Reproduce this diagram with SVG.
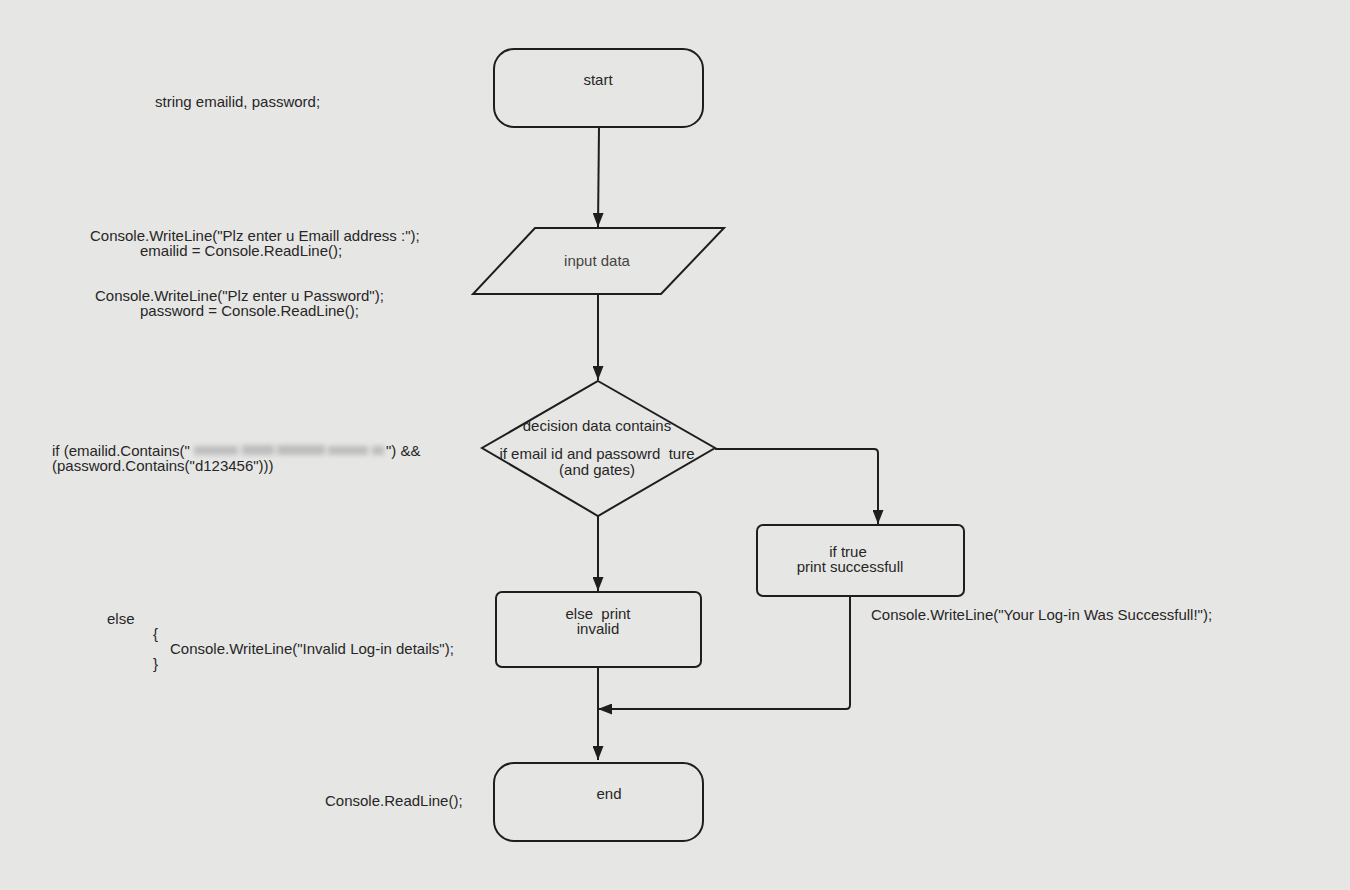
<svg xmlns="http://www.w3.org/2000/svg" width="1350" height="890" viewBox="0 0 1350 890">
<style>
text{font-family:"Liberation Sans",Arial,sans-serif;font-size:15px;fill:#262626}
.c{text-anchor:middle}
.shape{fill:none;stroke:#1e1e1e;stroke-width:2}
.edge{fill:none;stroke:#1e1e1e;stroke-width:2}
</style>
<defs>
<marker id="ah" viewBox="0 0 14 11" refX="14" refY="5.5" markerWidth="14" markerHeight="11" markerUnits="userSpaceOnUse" orient="auto">
<path d="M0,0 L14,5.5 L0,11 z" fill="#1e1e1e"/>
</marker>
<filter id="blur" x="-20%" y="-80%" width="140%" height="260%"><feGaussianBlur stdDeviation="2.5"/></filter>
</defs>
<rect width="1350" height="890" fill="#e6e6e5"/>

<g id="connectors">
<path class="edge" d="M599,127 L598,227" marker-end="url(#ah)"/>
<path class="edge" d="M598,294 L598,380" marker-end="url(#ah)"/>
<path class="edge" d="M715,449 L874,449 Q878,449 878,453 L878,524" marker-end="url(#ah)"/>
<path class="edge" d="M598,516 L598,591" marker-end="url(#ah)"/>
<path class="edge" d="M850,596 L850,705 Q850,709 846,709 L598,709" marker-end="url(#ah)"/>
<path class="edge" d="M598,667 L598,760" marker-end="url(#ah)"/>
</g>

<g id="start">
<rect class="shape" x="494" y="49" width="209" height="78" rx="20"/>
<text class="c" x="598" y="85">start</text>
</g>
<g id="input">
<path class="shape" d="M535,228 L724,228 L661,294 L473,294 z"/>
<text class="c" x="597" y="266" style="fill:#444">input data</text>
</g>
<g id="decision">
<path class="shape" d="M598,381 L715,448 L598,516 L482,448 z"/>
<text class="c" x="597" y="431">decision data contains</text>
<text class="c" x="597" y="459" xml:space="preserve">if email id and passowrd  ture</text>
<text class="c" x="597" y="475">(and gates)</text>
</g>
<g id="iftrue">
<rect class="shape" x="757" y="525" width="207" height="71" rx="6"/>
<text class="c" x="848" y="557">if true</text>
<text class="c" x="850" y="572">print successfull</text>
</g>
<g id="else">
<rect class="shape" x="496" y="592" width="205" height="75" rx="6"/>
<text class="c" x="598" y="619" xml:space="preserve">else  print</text>
<text class="c" x="598" y="634">invalid</text>
</g>
<g id="end">
<rect class="shape" x="494" y="763" width="209" height="78" rx="20"/>
<text class="c" x="609" y="799">end</text>
</g>

<g id="code">
<text x="155" y="107">string emailid, password;</text>
<text x="90" y="241">Console.WriteLine("Plz enter u Emaill address :");</text>
<text x="140" y="256">emailid = Console.ReadLine();</text>
<text x="95" y="301">Console.WriteLine("Plz enter u Password");</text>
<text x="140" y="316">password = Console.ReadLine();</text>
<text x="52" y="456">if (emailid.Contains("</text>
<g filter="url(#blur)" fill="#bdbdbd">
<rect x="194" y="446" width="44" height="9"/>
<rect x="242" y="445" width="32" height="10"/>
<rect x="277" y="445" width="48" height="10"/>
<rect x="328" y="446" width="40" height="9"/>
<rect x="372" y="446" width="12" height="9"/>
</g>
<text x="386" y="456">") &amp;&amp;</text>
<text x="52" y="471">(password.Contains("d123456")))</text>
<text x="107" y="624">else</text>
<text x="153" y="639">{</text>
<text x="170" y="654">Console.WriteLine("Invalid Log-in details");</text>
<text x="153" y="669">}</text>
<text x="325" y="806">Console.ReadLine();</text>
<text x="871" y="620">Console.WriteLine("Your Log-in Was Successfull!");</text>
</g>
</svg>
